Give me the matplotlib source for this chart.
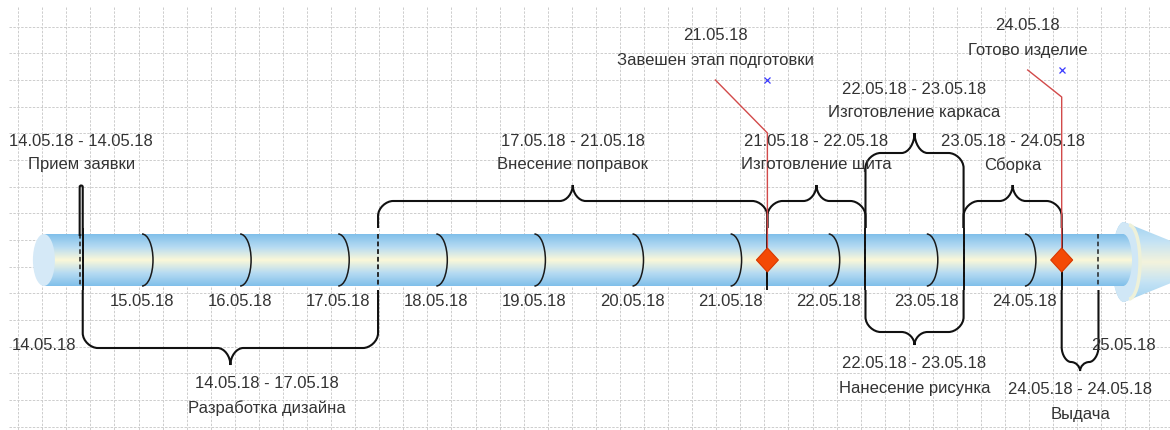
import numpy as np
import pandas as pd
import matplotlib.pyplot as plt
from matplotlib.path import Path
from matplotlib.patches import PathPatch, Ellipse, Arc, Polygon
from matplotlib.colors import LinearSegmentedColormap

plt.rcParams['font.family'] = ['Liberation Sans', 'DejaVu Sans']

# Data
timeline_start = '14.05.18 00:00'
timeline_end = '25.05.18 00:00'
tick_dates = ['15.05.18', '16.05.18', '17.05.18', '18.05.18', '19.05.18',
              '20.05.18', '21.05.18', '22.05.18', '23.05.18', '24.05.18']

task_names = ['Прием заявки', 'Разработка дизайна', 'Внесение поправок',
              'Изготовление щита', 'Изготовление каркаса', 'Нанесение рисунка',
              'Сборка', 'Выдача']
task_start = ['14.05.18 08:45', '14.05.18 09:30', '17.05.18 09:45', '21.05.18 09:00',
              '22.05.18 09:00', '22.05.18 09:00', '23.05.18 09:00', '24.05.18 09:00']
task_end = ['14.05.18 09:30', '17.05.18 09:45', '21.05.18 09:00', '22.05.18 09:00',
            '23.05.18 09:00', '23.05.18 09:00', '24.05.18 09:00', '24.05.18 18:00']

milestone_names = ['Завешен этап подготовки', 'Готово изделие']
milestone_dates = ['21.05.18 09:00', '24.05.18 09:00']

# Layout (pixel rows, y grows downward)
W, H = 1170, 430
PX_PER_DAY = 98.1
PX = 1 / PX_PER_DAY
X_LEFT = 15 - 142 / PX_PER_DAY
BAR_TOP, BAR_BOT, BAR_MID = 234, 286, 260

brace_leg = [236, 290, 228, 228, 228, 290, 228, 290]
brace_bar = [185, 348, 201, 201, 153, 332, 201, 362]
brace_tip = [185, 365, 185, 185, 133, 345, 185, 371]
label_dx = [0, 36, 0, 0, 0, 0, 0, 0]
solid_cross = ['14.05.18 09:30', '21.05.18 09:00', '22.05.18 09:00',
               '23.05.18 09:00', '24.05.18 09:00']

ms_text_dx = [-52, -34]
ms_knee = [133, 97]
ms_end = [80, 70]

TXT = '#333333'
FS = 12


def to_day(s):
    fmt = '%d.%m.%y %H:%M' if ' ' in s else '%d.%m.%y'
    t = pd.to_datetime(s, format=fmt)
    return t.day + t.hour / 24 + t.minute / 1440


def brace_path(x0, x1, y_leg, y_bar, y_tip):
    sg = 1 if y_leg > y_bar else -1
    w = (x1 - x0) / PX
    M, L, C = Path.MOVETO, Path.LINETO, Path.CURVE4
    if w < 6:
        verts = [(x0, y_leg), (x0, y_tip + 2 * sg), (x0, y_tip), (x1, y_tip),
                 (x1, y_tip + 2 * sg), (x1, y_leg)]
        codes = [M, L, C, C, C, L]
        return Path(verts, codes)
    rx = min(15, w / 4) * PX
    rt = min(13, w / 4) * PX
    ry = min(15, abs(y_leg - y_bar) * 0.6)
    xc = (x0 + x1) / 2
    ym = y_bar + (y_tip - y_bar) * 0.5
    verts = [(x0, y_leg), (x0, y_bar + sg * ry),
             (x0, y_bar + sg * ry * 0.45), (x0 + rx * 0.55, y_bar), (x0 + rx, y_bar),
             (xc - rt, y_bar),
             (xc - rt * 0.45, y_bar), (xc, ym), (xc, y_tip),
             (xc, ym), (xc + rt * 0.45, y_bar), (xc + rt, y_bar),
             (x1 - rx, y_bar),
             (x1 - rx * 0.55, y_bar), (x1, y_bar + sg * ry * 0.45), (x1, y_bar + sg * ry),
             (x1, y_leg)]
    codes = [M, L, C, C, C, L, C, C, C, C, C, C, L, C, C, C, L]
    return Path(verts, codes)


fig = plt.figure(figsize=(W / 100, H / 100), dpi=100)

# background grid (pixel space)
g = fig.add_axes([0, 0, 1, 1])
g.set_xlim(0, W)
g.set_ylim(H, 0)
g.axis('off')
g.hlines(np.arange(1, 17) * 26.67, 9, W, colors='#cdcdcd', lw=0.7, linestyles=(0, (2.5, 1.5)))
g.vlines(18.2 + np.arange(0, 48) * 24.07, 7, H, colors='#cdcdcd', lw=0.7, linestyles=(0, (2.5, 1.5)))

ax = fig.add_axes([0, 0, 1, 1])
ax.axis('off')

t0, t1 = to_day(timeline_start), to_day(timeline_end)
k = 0.5523

# arrow cone at the end
cone_cm = LinearSegmentedColormap.from_list('cone', ['#9ccff0', '#c4e3f5', '#f4f3dc', '#c4e3f5', '#9ccff0'])
bx = t1 + 1 * PX
cone = Path([(bx, 222), (bx - 12 * PX * k, 222), (bx - 12 * PX, 262 - 40 * k), (bx - 12 * PX, 262),
             (bx - 12 * PX, 262 + 40 * k), (bx - 12 * PX * k, 302), (bx, 302),
             (t1 + 100 * PX, 262), (bx, 222)],
            [Path.MOVETO, Path.CURVE4, Path.CURVE4, Path.CURVE4, Path.CURVE4, Path.CURVE4,
             Path.CURVE4, Path.LINETO, Path.CLOSEPOLY])
cone_patch = PathPatch(cone, fc='none', ec='none')
ax.add_patch(cone_patch)
im = ax.imshow(np.linspace(0, 1, 256).reshape(-1, 1), cmap=cone_cm, aspect='auto',
               extent=[bx - 13 * PX, t1 + 101 * PX, 303, 221], zorder=1)
im.set_clip_path(cone_patch)
back = Ellipse((bx + 2 * PX, 262), 28 * PX, 84, fc='#d0e7f6', ec='none', zorder=1.2)
ax.add_patch(back)
back.set_clip_path(cone_patch)
ax.add_patch(Arc((bx + 5 * PX, 262), 2 * 11 * PX, 74, theta1=-90, theta2=90,
                 color='#eef1d9', lw=2.5, zorder=1.5))

# bar body with gradient
bar_cm = LinearSegmentedColormap.from_list('bar', ['#80bfea', '#b6dbf2', '#fbf8d8', '#b6dbf2', '#80bfea'])
e = 9 * PX
hh = (BAR_BOT - BAR_TOP) / 2
bar = Path([(t0, BAR_TOP), (t1, BAR_TOP),
            (t1 + e * k, BAR_TOP), (t1 + e, BAR_MID - hh * k), (t1 + e, BAR_MID),
            (t1 + e, BAR_MID + hh * k), (t1 + e * k, BAR_BOT), (t1, BAR_BOT),
            (t0, BAR_BOT), (t0, BAR_TOP)],
           [Path.MOVETO, Path.LINETO, Path.CURVE4, Path.CURVE4, Path.CURVE4,
            Path.CURVE4, Path.CURVE4, Path.CURVE4, Path.LINETO, Path.CLOSEPOLY])
bar_patch = PathPatch(bar, fc='none', ec='none')
ax.add_patch(bar_patch)
im = ax.imshow(np.linspace(0, 1, 256).reshape(-1, 1), cmap=bar_cm, aspect='auto',
               extent=[t0, t1 + e, BAR_BOT, BAR_TOP], zorder=2)
im.set_clip_path(bar_patch)
ax.add_patch(Ellipse((t0, BAR_MID), 22 * PX, BAR_BOT - BAR_TOP, fc='#d5e9f7', ec='none', zorder=2.5))

# day dividers and labels
for d in tick_dates:
    x = to_day(d)
    ax.add_patch(Arc((x, BAR_MID), 2 * 11 * PX, BAR_BOT - BAR_TOP, theta1=-90, theta2=90,
                     color='#1a1a1a', lw=1.1, zorder=3))
    ax.text(x, 302, d, ha='center', va='center', fontsize=FS, color=TXT, zorder=5)
ax.text(t0, 345, timeline_start[:8], ha='center', va='center', fontsize=FS, color=TXT)
ax.text(t1, 345, timeline_end[:8], ha='center', va='center', fontsize=FS, color=TXT, zorder=5)

# interval boundaries inside the bar
for s, f in zip(task_start, task_end):
    for d in (s, f):
        ax.vlines(to_day(d), BAR_TOP, BAR_BOT, colors='#222222', lw=1.1,
                  linestyles=(0, (3, 2)), zorder=3)
for d in solid_cross:
    ax.vlines(to_day(d), 228, 290, colors='#111111', lw=1.4, zorder=3)

# braces for tasks
for i, name in enumerate(task_names):
    x0, x1 = to_day(task_start[i]), to_day(task_end[i])
    p = brace_path(x0, x1, brace_leg[i], brace_bar[i], brace_tip[i])
    ax.add_patch(PathPatch(p, fc='none', ec='#111111', lw=1.5, zorder=4))
    xc = (x0 + x1) / 2 + label_dx[i] * PX
    rng = f'{task_start[i][:8]} - {task_end[i][:8]}'
    if brace_leg[i] > brace_bar[i]:
        y1, y2 = brace_tip[i] - 43, brace_tip[i] - 20
    else:
        y1, y2 = brace_tip[i] + 18, brace_tip[i] + 43
    ax.text(xc, y1, rng, ha='center', va='center', fontsize=FS, color=TXT, zorder=5)
    ax.text(xc, y2, name, ha='center', va='center', fontsize=FS, color=TXT, zorder=5)

# milestones
for name, d, dx, knee, ey in zip(milestone_names, milestone_dates, ms_text_dx, ms_knee, ms_end):
    x = to_day(d)
    xt = x + dx * PX
    ax.plot([x, x, xt], [BAR_MID, knee, ey], color='#d24a4a', lw=1.0, zorder=4.5)
    ax.add_patch(Polygon([(x - 11 * PX, BAR_MID), (x, BAR_MID - 12), (x + 11 * PX, BAR_MID),
                          (x, BAR_MID + 12)], closed=True, fc='#f44a06', ec='#d83800',
                         lw=0.8, zorder=6))
    ax.plot(x, ey, 'x', color='#3a3aff', ms=4.5, mew=0.9, zorder=6)
    ax.text(xt, ey - 44, d[:8], ha='center', va='center', fontsize=FS, color=TXT, zorder=5)
    ax.text(xt, ey - 19, name, ha='center', va='center', fontsize=FS, color=TXT, zorder=5)

ax.set_xlim(X_LEFT, X_LEFT + W * PX)
ax.set_ylim(H, 0)

plt.savefig('out.png', dpi=100)
